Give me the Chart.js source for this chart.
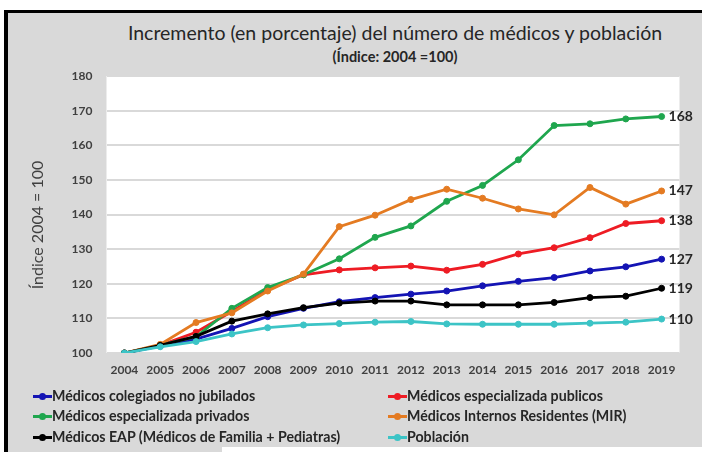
<!DOCTYPE html>
<html>
<head>
<meta charset="utf-8">
<script src="https://cdn.jsdelivr.net/npm/chart.js@4/dist/chart.umd.min.js"></script>
<style>
  html, body { margin: 0; padding: 0; background: #ffffff; width: 702px; height: 452px; overflow: hidden; position: relative; font-family: Lato, "Open Sans", sans-serif; }
  #frame { position: absolute; left: 4px; top: 10px; width: 720px; height: 460px; border-top: 3px solid #000; border-left: 4px solid #000; background: #d9d9d9; }
  #patch { position: absolute; left: 222px; top: 447px; width: 500px; height: 10px; background: #ffffff; }
  #wrap { position: absolute; left: 0; top: 0; width: 702px; height: 452px; }
  .title { position: absolute; left: 0; width: 790px; text-align: center; color: #262626; white-space: nowrap; }
  #t1 { top: 21px; font-size: 19.5px; }
  #t2 { top: 48px; font-size: 14.5px; font-weight: bold; left: 0; }
  .leg { position: absolute; font-size: 14.2px; font-weight: bold; color: #262626; white-space: nowrap; line-height: 18px; }
  .leg .mk { display: inline-block; position: relative; width: 19px; height: 18px; vertical-align: top; }
  .leg .mk i { position: absolute; left: 0; top: 8px; width: 19px; height: 2.5px; }
  .leg .mk b { position: absolute; left: 6px; top: 5.5px; width: 7px; height: 7px; border-radius: 50%; }
</style>
</head>
<body>
<div id="frame"></div>
<div id="patch"></div>
<div class="title" id="t1">Incremento (en porcentaje) del número de médicos y población</div>
<div class="title" id="t2">(Índice: 2004 =100)</div>
<div id="wrap"><canvas id="c" width="702" height="452"></canvas></div>
<div id="legend"></div>
<script>
const years = ['2004','2005','2006','2007','2008','2009','2010','2011','2012','2013','2014','2015','2016','2017','2018','2019'];
const colegiados = [100, 102, 104, 107.1, 110.5, 112.9, 114.8, 116.0, 117.0, 117.9, 119.4, 120.7, 121.8, 123.7, 124.9, 127.1];
const publicos   = [100, 102.2, 106, 112, 118.2, 122.6, 124.0, 124.6, 125.1, 123.9, 125.6, 128.6, 130.4, 133.3, 137.4, 138.2];
const privados   = [100, 102.3, 104.7, 112.9, 118.9, 122.6, 127.2, 133.4, 136.7, 143.8, 148.4, 155.8, 165.7, 166.2, 167.6, 168.3];
const mir        = [100, 102.5, 108.8, 111.6, 117.9, 122.8, 136.5, 139.8, 144.3, 147.3, 144.7, 141.6, 139.9, 147.8, 143.0, 146.8];
const eap        = [100, 102.2, 104.8, 109.2, 111.3, 113.1, 114.4, 115.0, 115.0, 113.9, 113.9, 113.9, 114.6, 116.0, 116.4, 118.7];
const poblacion  = [100, 101.8, 103.3, 105.5, 107.3, 108.1, 108.5, 108.9, 109.1, 108.4, 108.3, 108.3, 108.3, 108.6, 108.9, 109.8];
const seriesNames = ['Médicos colegiados no jubilados','Médicos especializada publicos','Médicos especializada privados','Médicos Internos Residentes (MIR)','Médicos EAP (Médicos de Familia + Pediatras)','Población'];
const seriesData = [colegiados, publicos, privados, mir, eap, poblacion];
const seriesColors = ['#1414b4','#ee1c24','#1fa64e','#e47b22','#000000','#3cc4c6'];
const yTickValues = [100,110,120,130,140,150,160,170,180];
const yAxisTitle = 'Índice 2004 = 100';

const datasets = seriesData.map((d, i) => ({
  label: seriesNames[i],
  data: d,
  borderColor: seriesColors[i],
  backgroundColor: seriesColors[i],
  pointBackgroundColor: seriesColors[i],
  pointBorderColor: seriesColors[i],
  borderWidth: 2.8,
  pointRadius: 3,
  pointBorderWidth: 1,
  tension: 0,
  order: seriesData.length - i
}));

const plotBg = {
  id: 'plotBg',
  beforeDraw(chart) {
    const {ctx, chartArea: a} = chart;
    ctx.save();
    ctx.fillStyle = '#ffffff';
    ctx.fillRect(a.left, a.top, a.right - a.left, a.bottom - a.top);
    ctx.restore();
  }
};
const yTitle = {
  id: 'yTitle',
  afterDraw(chart) {
    const ctx = chart.ctx;
    ctx.save();
    ctx.translate(38, 225);
    ctx.rotate(-Math.PI / 2);
    ctx.font = '16px Lato, "Open Sans", sans-serif';
    ctx.fillStyle = '#404040';
    ctx.textAlign = 'center';
    ctx.textBaseline = 'middle';
    ctx.fillText(yAxisTitle, 0, 0);
    ctx.restore();
  }
};
const endLabels = {
  id: 'endLabels',
  afterDatasetsDraw(chart) {
    const ctx = chart.ctx;
    ctx.save();
    ctx.font = 'bold 14px Lato, "Open Sans", sans-serif';
    ctx.fillStyle = '#262626';
    ctx.textBaseline = 'middle';
    ctx.textAlign = 'left';
    chart.data.datasets.forEach((ds, i) => {
      const meta = chart.getDatasetMeta(i);
      const p = meta.data[meta.data.length - 1];
      ctx.fillText(String(Math.round(ds.data[ds.data.length - 1])), p.x + 7, p.y);
    });
    ctx.restore();
  }
};

new Chart(document.getElementById('c'), {
  type: 'line',
  data: { labels: years, datasets },
  plugins: [plotBg, endLabels, yTitle],
  options: {
    responsive: false,
    animation: false,
    layout: { padding: { left: 30, right: 22.5, top: 76, bottom: 69 } },
    plugins: { legend: { display: false }, tooltip: { enabled: false }, title: { display: false } },
    scales: {
      x: {
        offset: true,
        grid: { display: false, drawTicks: false },
        border: { display: false },
        ticks: { color: '#404040', font: { family: 'Lato', size: 12, weight: 'bold' }, padding: 10, maxRotation: 0, autoSkip: false },
        afterFit(s) { s.height = 30; }
      },
      y: {
        min: 100, max: 180,
        afterBuildTicks(s) { s.ticks = yTickValues.map(v => ({ value: v })); },
        grid: { color: '#d9d9d9', lineWidth: 2, drawTicks: false },
        border: { display: false },
        ticks: { color: '#404040', font: { family: 'Lato', size: 12, weight: 'bold' }, padding: 14 },
        title: { display: false, text: yAxisTitle },
        afterFit(s) { s.width = 76.5; }
      }
    }
  }
});

const rowsY = [387, 407, 428];
const colsX = [33, 388];
const legendEl = document.getElementById('legend');
seriesNames.forEach((n, i) => {
  const d = document.createElement('div');
  d.className = 'leg';
  d.style.left = colsX[i % 2] + 'px';
  d.style.top = rowsY[Math.floor(i / 2)] + 'px';
  d.innerHTML = '<span class="mk"><i style="background:' + seriesColors[i] + '"></i><b style="background:' + seriesColors[i] + '"></b></span>' + n;
  legendEl.appendChild(d);
});
</script>
</body>
</html>
